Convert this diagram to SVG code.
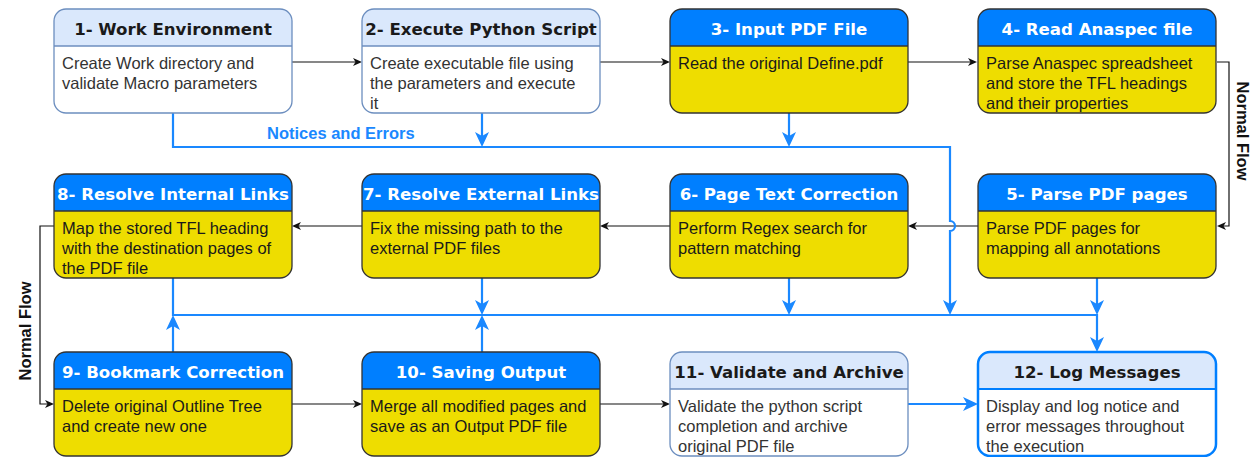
<svg xmlns="http://www.w3.org/2000/svg" xmlns:xlink="http://www.w3.org/1999/xlink" width="1254" height="457" viewBox="0 0 1254 457">
  <style>
    .hd { font-family: "DejaVu Sans", Verdana, sans-serif; font-weight: bold; font-size: 16.6px; text-anchor: middle; }
    .hd-dark { fill: #1a1a1a; }
    .hd-light { fill: #ffffff; }
    .bd { font-family: "Liberation Sans", Arial, sans-serif; font-size: 16.5px; }
    .bd-w { fill: #333333; }
    .bd-y { fill: #1a1a1a; }
    .fill-w { fill: #ffffff; }
    .fill-y { fill: #EEDD00; }
    .fill-hl { fill: #DAE8FC; }
    .fill-hb { fill: #007FFF; }
    .ol-l { fill: none; stroke: #6C8EBF; stroke-width: 1.3; }
    .ol-d { fill: none; stroke: #333333; stroke-width: 1.3; }
    .ol-b { fill: none; stroke: #007FFF; stroke-width: 2.5; }
    .sep-l { stroke: #6C8EBF; stroke-width: 1.3; }
    .sep-d { stroke: #333333; stroke-width: 1.3; }
    .sep-b { stroke: #007FFF; stroke-width: 2; }
    .k { fill: none; stroke: #111111; stroke-width: 1.2; marker-end: url(#ak); }
    .b { fill: none; stroke: #1A88FF; stroke-width: 2.2; marker-end: url(#ab); }
    .lbl { font-family: "Liberation Sans", Arial, sans-serif; font-weight: bold; font-size: 16.5px; }
  </style>
  <defs>
    <rect id="box" width="238" height="104" rx="12" ry="12"/>
    <path id="hdr" d="M0 37V12A12 12 0 0 1 12 0H226A12 12 0 0 1 238 12V37Z"/>
    <marker id="ak" viewBox="0 0 10 10" markerWidth="10" markerHeight="10" refX="7" refY="5" orient="auto" markerUnits="userSpaceOnUse">
      <path d="M0 1L9 5L0 9L2.5 5Z" fill="#111111"/>
    </marker>
    <marker id="ab" viewBox="0 0 16 16" markerWidth="16" markerHeight="16" refX="11" refY="8" orient="auto" markerUnits="userSpaceOnUse">
      <path d="M0 1L15 8L0 15L4 8Z" fill="#1A88FF"/>
    </marker>
  </defs>

  <rect width="1254" height="457" fill="#ffffff"/>

  <!-- connectors -->
  <g id="connectors">
    <!-- normal flow -->
    <path class="k" d="M292 62H360"/>
    <path class="k" d="M600 62H668"/>
    <path class="k" d="M908 62H975"/>
    <path class="k" d="M1217 62H1229V226H1219"/>
    <path class="k" d="M978 226H910"/>
    <path class="k" d="M670 226H602"/>
    <path class="k" d="M362 226H294"/>
    <path class="k" d="M54 226H40V404H52"/>
    <path class="k" d="M292 404H360"/>
    <path class="k" d="M600 404H668"/>
    <path class="b" d="M908 404H974"/>

    <!-- notices and errors bus -->
    <path class="b" d="M173 113V147H950V221A5 5 0 0 1 950 231V311"/>
    <path class="b" d="M482 113V143"/>
    <path class="b" d="M789 113V143"/>
    <path class="b" d="M173 278V315H1097V348"/>
    <path class="b" d="M482 278V311"/>
    <path class="b" d="M789 278V311"/>
    <path class="b" d="M1097 278V311"/>
    <path class="b" d="M173 352V319"/>
    <path class="b" d="M482 352V319"/>

    <text class="lbl" x="267" y="139" fill="#1A88FF">Notices and Errors</text>
    <text class="lbl" transform="translate(1237,131) rotate(90)" text-anchor="middle" fill="#111111">Normal Flow</text>
    <text class="lbl" transform="translate(31,331) rotate(-90)" text-anchor="middle" fill="#111111">Normal Flow</text>
  </g>

  <!-- row 1 -->
  <g id="node1" transform="translate(54,9)">
    <use xlink:href="#box" class="fill-w"/>
    <use xlink:href="#hdr" class="fill-hl"/>
    <line x1="0" y1="37" x2="238" y2="37" class="sep-l"/>
    <use xlink:href="#box" class="ol-l"/>
    <text class="hd hd-dark" x="119" y="25.5">1- Work Environment</text>
    <text class="bd bd-w" x="8" y="60">Create Work directory and</text>
    <text class="bd bd-w" x="8" y="80">validate Macro parameters</text>
  </g>

  <g id="node2" transform="translate(362,9)">
    <use xlink:href="#box" class="fill-w"/>
    <use xlink:href="#hdr" class="fill-hl"/>
    <line x1="0" y1="37" x2="238" y2="37" class="sep-l"/>
    <use xlink:href="#box" class="ol-l"/>
    <text class="hd hd-dark" x="119" y="25.5">2- Execute Python Script</text>
    <text class="bd bd-w" x="8" y="60">Create executable file using</text>
    <text class="bd bd-w" x="8" y="80">the parameters and execute</text>
    <text class="bd bd-w" x="8" y="100">it</text>
  </g>

  <g id="node3" transform="translate(670,9)">
    <use xlink:href="#box" class="fill-y"/>
    <use xlink:href="#hdr" class="fill-hb"/>
    <line x1="0" y1="37" x2="238" y2="37" class="sep-d"/>
    <use xlink:href="#box" class="ol-d"/>
    <text class="hd hd-light" x="119" y="25.5">3- Input PDF File</text>
    <text class="bd bd-y" x="8" y="60">Read the original Define.pdf</text>
  </g>

  <g id="node4" transform="translate(978,9)">
    <use xlink:href="#box" class="fill-y"/>
    <use xlink:href="#hdr" class="fill-hb"/>
    <line x1="0" y1="37" x2="238" y2="37" class="sep-d"/>
    <use xlink:href="#box" class="ol-d"/>
    <text class="hd hd-light" x="119" y="25.5">4- Read Anaspec file</text>
    <text class="bd bd-y" x="8" y="60">Parse Anaspec spreadsheet</text>
    <text class="bd bd-y" x="8" y="80">and store the TFL headings</text>
    <text class="bd bd-y" x="8" y="100">and their properties</text>
  </g>

  <!-- row 2 -->
  <g id="node5" transform="translate(978,174)">
    <use xlink:href="#box" class="fill-y"/>
    <use xlink:href="#hdr" class="fill-hb"/>
    <line x1="0" y1="37" x2="238" y2="37" class="sep-d"/>
    <use xlink:href="#box" class="ol-d"/>
    <text class="hd hd-light" x="119" y="25.5">5- Parse PDF pages</text>
    <text class="bd bd-y" x="8" y="60">Parse PDF pages for</text>
    <text class="bd bd-y" x="8" y="80">mapping all annotations</text>
  </g>

  <g id="node6" transform="translate(670,174)">
    <use xlink:href="#box" class="fill-y"/>
    <use xlink:href="#hdr" class="fill-hb"/>
    <line x1="0" y1="37" x2="238" y2="37" class="sep-d"/>
    <use xlink:href="#box" class="ol-d"/>
    <text class="hd hd-light" x="119" y="25.5">6- Page Text Correction</text>
    <text class="bd bd-y" x="8" y="60">Perform Regex search for</text>
    <text class="bd bd-y" x="8" y="80">pattern matching</text>
  </g>

  <g id="node7" transform="translate(362,174)">
    <use xlink:href="#box" class="fill-y"/>
    <use xlink:href="#hdr" class="fill-hb"/>
    <line x1="0" y1="37" x2="238" y2="37" class="sep-d"/>
    <use xlink:href="#box" class="ol-d"/>
    <text class="hd hd-light" x="119" y="25.5">7- Resolve External Links</text>
    <text class="bd bd-y" x="8" y="60">Fix the missing path to the</text>
    <text class="bd bd-y" x="8" y="80">external PDF files</text>
  </g>

  <g id="node8" transform="translate(54,174)">
    <use xlink:href="#box" class="fill-y"/>
    <use xlink:href="#hdr" class="fill-hb"/>
    <line x1="0" y1="37" x2="238" y2="37" class="sep-d"/>
    <use xlink:href="#box" class="ol-d"/>
    <text class="hd hd-light" x="119" y="25.5">8- Resolve Internal Links</text>
    <text class="bd bd-y" x="8" y="60">Map the stored TFL heading</text>
    <text class="bd bd-y" x="8" y="80">with the destination pages of</text>
    <text class="bd bd-y" x="8" y="100">the PDF file</text>
  </g>

  <!-- row 3 -->
  <g id="node9" transform="translate(54,352)">
    <use xlink:href="#box" class="fill-y"/>
    <use xlink:href="#hdr" class="fill-hb"/>
    <line x1="0" y1="37" x2="238" y2="37" class="sep-d"/>
    <use xlink:href="#box" class="ol-d"/>
    <text class="hd hd-light" x="119" y="25.5">9- Bookmark Correction</text>
    <text class="bd bd-y" x="8" y="60">Delete original Outline Tree</text>
    <text class="bd bd-y" x="8" y="80">and create new one</text>
  </g>

  <g id="node10" transform="translate(362,352)">
    <use xlink:href="#box" class="fill-y"/>
    <use xlink:href="#hdr" class="fill-hb"/>
    <line x1="0" y1="37" x2="238" y2="37" class="sep-d"/>
    <use xlink:href="#box" class="ol-d"/>
    <text class="hd hd-light" x="119" y="25.5">10- Saving Output</text>
    <text class="bd bd-y" x="8" y="60">Merge all modified pages and</text>
    <text class="bd bd-y" x="8" y="80">save as an Output PDF file</text>
  </g>

  <g id="node11" transform="translate(670,352)">
    <use xlink:href="#box" class="fill-w"/>
    <use xlink:href="#hdr" class="fill-hl"/>
    <line x1="0" y1="37" x2="238" y2="37" class="sep-l"/>
    <use xlink:href="#box" class="ol-l"/>
    <text class="hd hd-dark" x="119" y="25.5">11- Validate and Archive</text>
    <text class="bd bd-w" x="8" y="60">Validate the python script</text>
    <text class="bd bd-w" x="8" y="80">completion and archive</text>
    <text class="bd bd-w" x="8" y="100">original PDF file</text>
  </g>

  <g id="node12" transform="translate(978,352)">
    <use xlink:href="#box" class="fill-w"/>
    <use xlink:href="#hdr" class="fill-hl"/>
    <line x1="0" y1="37" x2="238" y2="37" class="sep-b"/>
    <use xlink:href="#box" class="ol-b"/>
    <text class="hd hd-dark" x="119" y="25.5">12- Log Messages</text>
    <text class="bd bd-w" x="8" y="60">Display and log notice and</text>
    <text class="bd bd-w" x="8" y="80">error messages throughout</text>
    <text class="bd bd-w" x="8" y="100">the execution</text>
  </g>
</svg>
